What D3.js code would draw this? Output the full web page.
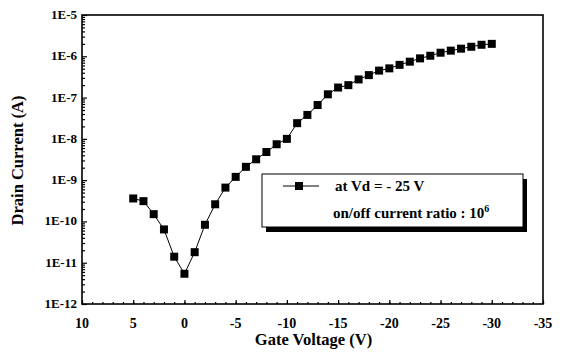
<!DOCTYPE html>
<html>
<head>
<meta charset="utf-8">
<script src="https://cdn.jsdelivr.net/npm/d3@7"></script>
<style>
  body { margin: 0; background: #fff; }
  text { font-family: "Liberation Serif", "Times New Roman", serif; font-weight: bold; fill: #000; }
</style>
</head>
<body>
<script>
var width = 563,
    height = 355;

// data
var gateVoltage = [5, 4, 3, 2, 1, 0, -1, -2, -3, -4, -5, -6, -7, -8, -9, -10,
                   -11, -12, -13, -14, -15, -16, -17, -18, -19, -20, -21, -22,
                   -23, -24, -25, -26, -27, -28, -29, -30];
var drainCurrent = [3.6e-10, 3.1e-10, 1.5e-10, 6.4e-11, 1.4e-11, 5.4e-12, 1.8e-11, 8.3e-11,
                    2.6e-10, 6.6e-10, 1.2e-9, 2.1e-9, 3.2e-9, 4.8e-9, 7.4e-9, 1.0e-8,
                    2.4e-8, 3.8e-8, 6.6e-8, 1.2e-7, 1.75e-7, 2.0e-7, 2.75e-7, 3.5e-7,
                    4.5e-7, 5.1e-7, 6.2e-7, 7.4e-7, 8.9e-7, 1.03e-6, 1.22e-6, 1.37e-6,
                    1.53e-6, 1.7e-6, 1.9e-6, 2.0e-6];
var xTicks = [10, 5, 0, -5, -10, -15, -20, -25, -30, -35];
var yTicks = [1e-12, 1e-11, 1e-10, 1e-9, 1e-8, 1e-7, 1e-6, 1e-5];
var yTickLabels = ["1E-12", "1E-11", "1E-10", "1E-9", "1E-8", "1E-7", "1E-6", "1E-5"];

// plot frame
var pLeft = 82, pRight = 543, pTop = 15, pBottom = 304;

var svg = d3.select("body")
    .append("svg")
    .attr("width", width)
    .attr("height", height);

var x = d3.scaleLinear().domain([10, -35]).range([pLeft, pRight]);
var y = d3.scaleLog().domain([1e-12, 1e-5]).range([pBottom, pTop]);

svg.append("rect")
    .attr("x", pLeft).attr("y", pTop)
    .attr("width", pRight - pLeft).attr("height", pBottom - pTop)
    .style("fill", "none").style("stroke", "#000").style("stroke-width", 1.6);

// x axis: major and minor ticks pointing inward
var xMinor = d3.range(10, -35.5, -1);
svg.append("g")
    .attr("transform", "translate(0," + pBottom + ")")
    .call(d3.axisTop(x).tickValues(xMinor).tickSize(2).tickFormat(""))
    .call(function(g) { g.select(".domain").remove(); });
svg.append("g")
    .attr("transform", "translate(0," + pBottom + ")")
    .call(d3.axisTop(x).tickValues(xTicks).tickSize(4).tickFormat(""))
    .call(function(g) { g.select(".domain").remove(); });
svg.append("g").selectAll("text")
    .data(xTicks)
    .enter().append("text")
    .attr("x", function(d) { return x(d); })
    .attr("y", pBottom + 24)
    .attr("text-anchor", "middle")
    .style("font-size", "14px")
    .text(function(d) { return d; });

// y axis: decades plus minor ticks
var yMinor = [];
for (var e = -12; e < -5; e++) {
    for (var m = 2; m <= 9; m++) yMinor.push(m * Math.pow(10, e));
}
svg.append("g")
    .attr("transform", "translate(" + pLeft + ",0)")
    .call(d3.axisRight(y).tickValues(yMinor).tickSize(3).tickFormat(""))
    .call(function(g) { g.select(".domain").remove(); });
svg.append("g")
    .attr("transform", "translate(" + pLeft + ",0)")
    .call(d3.axisRight(y).tickValues(yTicks).tickSize(5).tickFormat(""))
    .call(function(g) { g.select(".domain").remove(); });
svg.append("g").selectAll("text")
    .data(yTicks)
    .enter().append("text")
    .attr("x", pLeft - 5)
    .attr("y", function(d) { return y(d) + 4; })
    .attr("text-anchor", "end")
    .style("font-size", "13px")
    .text(function(d, i) { return yTickLabels[i]; });

svg.selectAll(".tick line").style("stroke", "#000").style("stroke-width", 1.2);

// axis titles
svg.append("text")
    .attr("x", (pLeft + pRight) / 2 + 1)
    .attr("y", 345)
    .attr("text-anchor", "middle")
    .style("font-size", "16.5px")
    .text("Gate Voltage (V)");
svg.append("text")
    .attr("transform", "translate(23," + ((pTop + pBottom) / 2 + 1) + ") rotate(-90)")
    .attr("text-anchor", "middle")
    .style("font-size", "16.5px")
    .text("Drain Current (A)");

// data
var pts = gateVoltage.map(function(v, i) { return [v, drainCurrent[i]]; });
var line = d3.line()
    .x(function(d) { return x(d[0]); })
    .y(function(d) { return y(d[1]); });
svg.append("path")
    .datum(pts)
    .attr("d", line)
    .style("fill", "none").style("stroke", "#000").style("stroke-width", 1);
svg.selectAll(".pt")
    .data(pts)
    .enter().append("rect")
    .attr("class", "pt")
    .attr("x", function(d) { return x(d[0]) - 4; })
    .attr("y", function(d) { return y(d[1]) - 4; })
    .attr("width", 8).attr("height", 8)
    .style("fill", "#000");

// legend box with drop shadow
var lg = svg.append("g");
lg.append("rect")
    .attr("x", 266).attr("y", 179).attr("width", 261).attr("height", 53)
    .style("fill", "#000");
lg.append("rect")
    .attr("x", 262).attr("y", 174).attr("width", 261).attr("height", 53)
    .style("fill", "#fff").style("stroke", "#000").style("stroke-width", 1);
lg.append("line")
    .attr("x1", 283).attr("x2", 319).attr("y1", 186).attr("y2", 186)
    .style("stroke", "#000").style("stroke-width", 1);
lg.append("rect")
    .attr("x", 295).attr("y", 182).attr("width", 8).attr("height", 8)
    .style("fill", "#000");
lg.append("text")
    .attr("x", 335).attr("y", 191)
    .style("font-size", "15px")
    .text("at Vd = - 25 V");
var t2 = lg.append("text")
    .attr("x", 333).attr("y", 218)
    .style("font-size", "15px")
    .text("on/off current ratio : 10");
t2.append("tspan")
    .attr("dy", -6)
    .style("font-size", "10px")
    .text("6");
</script>
</body>
</html>
